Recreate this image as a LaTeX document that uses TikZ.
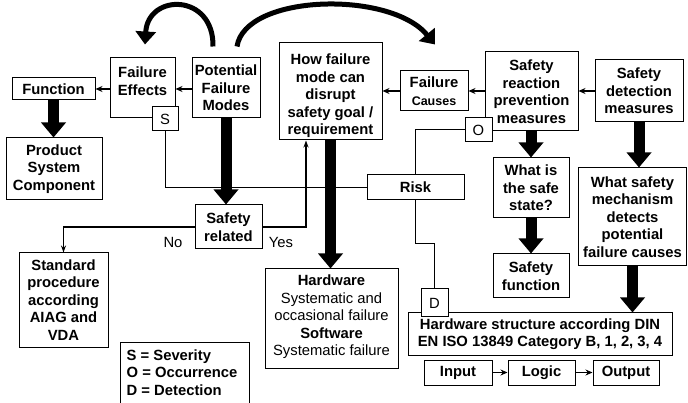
\documentclass[tikz,border=0pt]{standalone}
\usepackage{fontspec}
\setmainfont{Liberation Sans}
\usetikzlibrary{arrows.meta}
\newcommand{\fsz}{\fontsize{14.8}{17.5}\selectfont}
\newcommand{\fsm}{\fontsize{12.5}{15}\selectfont}
\begin{document}
\begin{tikzpicture}[x=1pt,y=-1pt,
  box/.style={draw,line width=1pt,fill=white,inner sep=0pt,align=center,font=\fsz\bfseries},
  lbox/.style={box,font=\fsz},
  txt/.style={inner sep=0pt,align=center,font=\fsz\bfseries},
  big/.style={line width=11pt,-{Triangle[length=15pt,width=24pt]}},
  curv/.style={line width=5pt,-{Triangle[length=13pt,width=20pt]}},
  flow/.style={line width=1.8pt,-{Stealth[length=7pt,width=6pt]}},
  conn/.style={line width=1pt},
  yn/.style={line width=1.6pt,-{Stealth[length=7pt,width=5pt]}}]
\useasboundingbox[fill=white] (0,0) rectangle (688,403);

% boxes
\node[box,minimum width=83pt,minimum height=22pt] (func) at (53.5,89) {Function};
\node[box,minimum width=96pt,minimum height=62pt] (prod) at (54,169) {Product\\System\\Component};
\node[box,minimum width=65pt,minimum height=60pt] (fe) at (142.5,88) {};
\node[txt] (fetxt) at (142.5,81) {Failure\\Effects};
\node[lbox,minimum width=26pt,minimum height=24pt] (S) at (165,119) {S};
\node[box,minimum width=68pt,minimum height=60pt] (pfm) at (226,88) {Potential\\Failure\\Modes};
\node[box,minimum width=103pt,minimum height=97pt] (how) at (330.5,91.5) {};
\node[txt] (howtxt) at (330.5,96) {How failure\\mode can\\disrupt\\safety goal /\\requirement};
\node[box,minimum width=68pt,minimum height=40pt] (fc) at (434,91) {Failure\\{\fsm Causes}};
\node[box,minimum width=93pt,minimum height=79pt] (srp) at (531.5,91.5) {Safety\\reaction\\prevention\\measures};
\node[lbox,minimum width=27pt,minimum height=24pt] (O) at (478.5,130) {O};
\node[box,minimum width=88pt,minimum height=62pt] (sdm) at (639,91) {Safety\\detection\\measures};
\node[box,minimum width=76pt,minimum height=60pt] (safe) at (531,188) {What is\\the safe\\state?};
\node[box,minimum width=108pt,minimum height=98pt] (mech) at (632.5,217) {What safety\\mechanism\\detects\\potential\\failure causes};
\node[box,minimum width=97pt,minimum height=25pt] (risk) at (415.5,187.5) {Risk};
\node[box,minimum width=67pt,minimum height=44pt] (sr) at (228.5,227) {Safety\\related};
\node[box,minimum width=89pt,minimum height=94pt] (std) at (63.5,300) {Standard\\procedure\\according\\AIAG and\\VDA};
\node[box,minimum width=129pt,minimum height=61pt] (leg) at (184.5,372.5) {};
\node[txt,align=left] (legtxt) at (182,372.5) {S = Severity\\O = Occurrence\\D = Detection};
\node[box,font=\fsz,minimum width=133pt,minimum height=99pt] (hw) at (331.5,318.5) {};
\node[inner sep=0pt,align=center,font=\fsz] (hwtxt) at (331.5,317) {\textbf{Hardware}\\Systematic and\\occasional failure\\\textbf{Software}\\Systematic failure};
\node[box,minimum width=264pt,minimum height=42pt] (hws) at (540,334) {Hardware structure according DIN\\EN ISO 13849 Category B, 1, 2, 3, 4};
\node[lbox,minimum width=27pt,minimum height=28pt] (D) at (434.5,303) {D};
\node[box,minimum width=76pt,minimum height=44pt] (sfn) at (531,276) {Safety\\function};
\node[box,minimum width=68pt,minimum height=25pt] (in) at (458,372.5) {Input};
\node[box,minimum width=67pt,minimum height=25pt] (logic) at (541.5,372.5) {Logic};
\node[box,minimum width=66pt,minimum height=25pt] (out) at (626,372.5) {Output};

% labels
\node[inner sep=0pt,font=\fsz] (no) at (173,242) {No};
\node[inner sep=0pt,font=\fsz] (yes) at (281,242) {Yes};

% thin connectors
\draw[conn] (S.south) |- (risk.west);
\draw[conn] (O.west) -| (risk.north);
\draw[conn] (risk.south) -- ++(0,43) -| (D.north);
\draw[yn] (sr.west) -| (std.north);
\draw[yn] (sr.east) -| ([xshift=-24.5pt]how.south);

% small horizontal arrows
\draw[flow] (fe.west |- func.east) -- (func.east);
\draw[flow] (pfm.west |- func.east) -- (fe.east |- func.east);
\draw[flow] (fc.west) -- (how.east |- fc.west);
\draw[flow] (srp.west |- fc.east) -- (fc.east);
\draw[flow] (sdm.west) -- (srp.east |- sdm.west);
\draw[flow] (in.east) -- (logic.west);
\draw[flow] (logic.east) -- (out.west);

% thick arrows
\draw[big] (func.south) -- (func.south |- prod.north);
\draw[big] (pfm.south) -- (pfm.south |- sr.north);
\draw[big] (how.south) -- (how.south |- hw.north);
\draw[big] (srp.south -| safe.north) -- (safe.north);
\draw[big] (safe.south) -- (safe.south |- sfn.north);
\draw[big] (sdm.south) -- (sdm.south |- mech.north);
\draw[big] (mech.south) -- (mech.south |- hws.north);

% curved arrows
\draw[curv] ([xshift=-13pt,yshift=11pt]pfm.north) .. controls (214,-7) and (148,-7) .. ([xshift=2.5pt,yshift=13pt]fe.north);
\draw[curv] ([xshift=11pt,yshift=11pt]pfm.north) .. controls (245,-6) and (390,-10) .. ([xshift=1pt,yshift=26pt]fc.north);
\end{tikzpicture}
\end{document}
